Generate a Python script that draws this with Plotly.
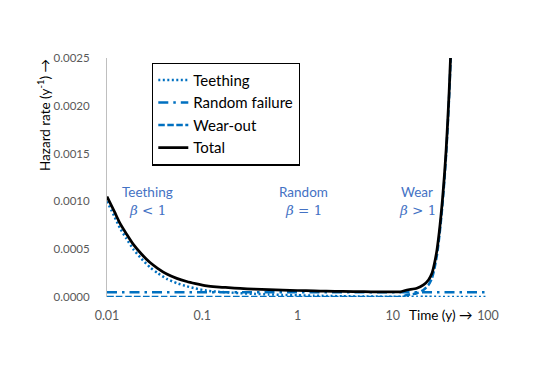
import plotly.graph_objects as go

# Time (years)
t = [0.01, 0.012, 0.0137, 0.016, 0.0189, 0.023, 0.0283, 0.034, 0.0424, 0.054,
     0.0687, 0.085, 0.1115, 0.14, 0.188, 0.25, 0.35, 0.5, 0.7, 1,
     1.5, 2, 3, 5, 7, 10, 12, 14.1, 17.9, 21,
     23.7, 25.8, 27.4, 29.1, 30.7, 32, 33.4, 34.9, 36.4, 37.8,
     39.1, 40.4, 42.1, 50, 70, 100]

teething = [0.00100, 0.00084, 0.00072, 0.00061, 0.00050, 0.00040, 0.00031, 0.00025, 0.00019, 0.000145,
            0.000112, 0.000090, 0.000066, 0.000056, 0.000048, 0.000040, 0.000033, 0.000027, 0.000022, 0.000018,
            0.000014, 0.000011, 0.000008, 0.000005, 0.000004, 0.000003, 0.0000025, 0.0000022, 0.000002, 0.0000018,
            0.0000016, 0.0000015, 0.0000014, 0.0000013, 0.0000012, 0.0000012, 0.0000011, 0.0000011, 0.000001, 0.000001,
            0.000001, 0.000001, 0.0000009, 0.0000008, 0.0000006, 0.0000005]

random_failure = [0.00005] * 46

wear_out = [0] * 26 + [0.000001, 0.00002, 0.000039, 0.000074,
            0.000126, 0.000196, 0.000298, 0.000438, 0.000618, 0.000788, 0.000988, 0.00123, 0.0015, 0.0018,
            0.0021, 0.00245, 0.00295, None, None, None]

total = [0.00105, 0.00089, 0.00077, 0.00066, 0.00055, 0.00045, 0.00036, 0.00030, 0.00024, 0.000195,
         0.000162, 0.000140, 0.000116, 0.000106, 0.000098, 0.000090, 0.000083, 0.000077, 0.000072, 0.000068,
         0.000064, 0.000061, 0.000058, 0.000055, 0.000054, 0.000053, 0.000054, 0.000073, 0.000091, 0.000126,
         0.000178, 0.000248, 0.00035, 0.00049, 0.00067, 0.00084, 0.00104, 0.00128, 0.00155, 0.00185,
         0.00215, 0.0025, 0.0030, None, None, None]

x_tickvals = [0.01, 0.1, 1, 10, 100]
x_ticktext = ["0.01", "0.1", "1", "10", "100"]
y_tickvals = [0, 0.0005, 0.0010, 0.0015, 0.0020, 0.0025]

BLUE = "#0070C0"
TXT_BLUE = "#4472C4"
FONT = "Lato"

fig = go.Figure()
fig.add_trace(go.Scatter(x=t, y=teething, name="Teething", mode="lines",
                         line=dict(color=BLUE, width=2.5, dash="2px,2.5px", shape="spline", smoothing=0.6)))
fig.add_trace(go.Scatter(x=t, y=random_failure, name="Random failure", mode="lines",
                         line=dict(color=BLUE, width=2.5, dash="10px,5px,2.5px,5px")))
fig.add_trace(go.Scatter(x=t, y=wear_out, name="Wear-out", mode="lines",
                         line=dict(color=BLUE, width=2.5, dash="6.5px,2.5px", shape="spline", smoothing=0.6)))
fig.add_trace(go.Scatter(x=t, y=total, name="Total", mode="lines",
                         line=dict(color="black", width=2.75, shape="spline", smoothing=0.6)))

ann = []
labels = [("Teething", "<i>β</i> &lt; 1", 0.1076),
          ("Random", "<i>β</i> = 1", 0.517),
          ("Wear", "<i>β</i> &gt; 1", 0.814)]
for top, beta, xp in labels:
    ann.append(dict(xref="paper", yref="paper", x=xp, y=0.439, text=top, showarrow=False,
                    font=dict(family=FONT, size=13.5, color=TXT_BLUE), xanchor="center", yanchor="middle"))
    ann.append(dict(xref="paper", yref="paper", x=xp, y=0.364, text=beta, showarrow=False,
                    font=dict(family="DejaVu Serif", size=13.5, color=TXT_BLUE), xanchor="center", yanchor="middle"))

ann.append(dict(xref="paper", yref="paper", x=(441 - 107) / 381, y=-(315 - 297) / 239,
                text="Time (y) →", showarrow=False,
                font=dict(family=FONT, size=13.5, color="black"), xanchor="center", yanchor="middle"))
ann.append(dict(xref="paper", yref="paper", x=-(107 - 44) / 381, y=(297 - 115) / 239,
                text="Hazard rate (y<sup>-1</sup>) →", showarrow=False, textangle=-90,
                font=dict(family=FONT, size=13.5, color="black"), xanchor="center", yanchor="middle"))

fig.update_layout(
    width=538, height=380,
    margin=dict(l=107, r=50, t=58, b=83),
    paper_bgcolor="white", plot_bgcolor="white",
    font=dict(family=FONT, size=12, color="#595959"),
    showlegend=True,
    legend=dict(x=(152 - 107) / 381, y=(297 - 62.5) / 239, xanchor="left", yanchor="top",
                bgcolor="white", bordercolor="black", borderwidth=1.3,
                font=dict(family=FONT, size=15, color="black"),
                itemwidth=30, tracegroupgap=0),
    annotations=ann,
)
fig.update_xaxes(type="log", range=[-2, 2], tickvals=x_tickvals, ticktext=x_ticktext,
                 showgrid=False, zeroline=False, showline=False, ticks="",
                 ticklabelstandoff=9, tickfont=dict(family=FONT, size=12.5, color="#595959"))
fig.update_yaxes(range=[0, 0.0025], tickvals=y_tickvals, tickformat=".4f",
                 showgrid=False, zeroline=False, showline=True, linecolor="#BFBFBF", linewidth=1,
                 ticks="", ticklabelstandoff=14, tickfont=dict(family=FONT, size=11.5, color="#595959"))

fig.write_html("out.html", config={"displayModeBar": False},
               post_script="document.body.style.margin='0';document.body.style.overflow='hidden';")
